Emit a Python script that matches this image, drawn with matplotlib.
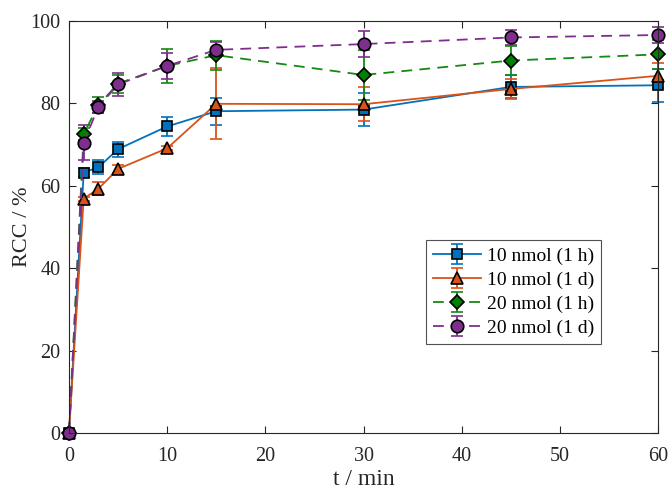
import matplotlib
matplotlib.use("Agg")
import matplotlib.pyplot as plt

plt.rcParams['font.family'] = ['Liberation Serif', 'DejaVu Serif']

t = [0, 1.5, 3, 5, 10, 15, 30, 45, 60]

labels = ["10 nmol (1 h)", "10 nmol (1 d)", "20 nmol (1 h)", "20 nmol (1 d)"]

y_10_1h = [0, 63.2, 64.5, 68.9, 74.4, 78.1, 78.5, 84.0, 84.4]
e_10_1h = [0, 1.0, 1.7, 1.8, 2.3, 3.3, 4.0, 2.8, 4.0]

y_10_1d = [0, 56.9, 59.3, 64.1, 69.1, 79.9, 79.8, 83.5, 86.7]
e_10_1d = [0, 0.5, 1.6, 1.0, 0.5, 8.6, 4.1, 2.4, 3.0]

y_20_1h = [0, 72.6, 79.6, 84.8, 89.1, 91.7, 86.9, 90.4, 91.9]
e_20_1h = [0, 1.5, 2.0, 2.2, 4.2, 3.5, 6.0, 3.6, 3.6]

y_20_1d = [0, 70.5, 79.2, 84.6, 89.1, 93.0, 94.4, 96.0, 96.6]
e_20_1d = [0, 4.2, 1.5, 2.8, 3.2, 1.8, 3.2, 1.8, 2.0]

xticks = [0, 10, 20, 30, 40, 50, 60]
yticks = [0, 20, 40, 60, 80, 100]

fig = plt.figure(figsize=(6.69, 4.93), dpi=100)
ax = fig.add_axes([0.1031, 0.1217, 0.8805, 0.8357])

series = [
    (y_10_1h, e_10_1h, '#0072BD', '#0072BD', 's', 7, '-'),
    (y_10_1d, e_10_1d, '#D95319', '#D95319', '^', 9, '-'),
    (y_20_1h, e_20_1h, '#138a13', '#008000', 'D', 7.5, (0, (6, 4))),
    (y_20_1d, e_20_1d, '#7E2F8E', '#7E2F8E', 'o', 9, (0, (6, 4))),
]

for (y, e, lc, fc, m, ms, ls), lab in zip(series, labels):
    ax.errorbar(t, y, yerr=e, color=lc, ecolor=lc, linestyle=ls, linewidth=1.3,
                marker=m, markersize=ms, markerfacecolor=fc, markeredgecolor='black',
                markeredgewidth=1.2, capsize=4, capthick=1.3, elinewidth=1.3,
                label=lab, clip_on=False)

ax.set_xlim(0, 60)
ax.set_ylim(0, 100)
ax.set_xticks(xticks)
ax.set_yticks(yticks)
ax.tick_params(direction='in', top=True, right=True, labelsize=14.5, length=5,
               width=0.8, colors='#262626')
ax.tick_params(axis='x', pad=10)
ax.tick_params(axis='y', pad=6)
for s in ax.spines.values():
    s.set_color('#262626')
    s.set_linewidth(0.8)

ax.set_xlabel('t / min', fontsize=17, color='#262626')
ax.xaxis.set_label_coords(0.5, -0.088)
ax.set_ylabel('RCC / %', fontsize=16, color='#262626')
ax.yaxis.set_label_coords(-0.063, 0.5)

leg = ax.legend(loc='upper left', bbox_to_anchor=(0.606, 0.468), fontsize=14,
                frameon=True, fancybox=False, edgecolor='#262626',
                borderpad=0.35, labelspacing=0.33, handlelength=2.5,
                handletextpad=0.3, borderaxespad=0)
leg.get_frame().set_linewidth(0.8)

fig.savefig('out.png', dpi=100)
